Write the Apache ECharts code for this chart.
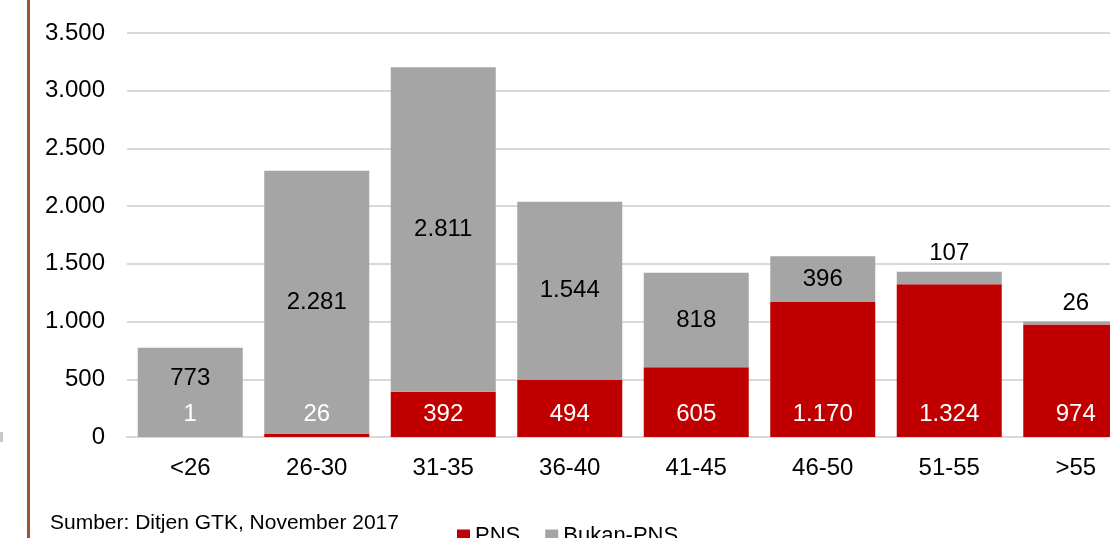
<!DOCTYPE html>
<html>
<head>
<meta charset="utf-8">
<script src="https://cdn.jsdelivr.net/npm/echarts@6/dist/echarts.min.js"></script>
<style>
  html, body { margin: 0; padding: 0; background: #fff; overflow: hidden; }
  /* kanvas lebih lebar dari jendela: kategori terakhir terpotong seperti aslinya */
  #chart { width: 1139px; height: 538px; }
</style>
</head>
<body>
<div id="chart"></div>
<script>
// kelompok usia
var categories = ['<26', '26-30', '31-35', '36-40', '41-45', '46-50', '51-55', '>55'];
var pns = [1, 26, 392, 494, 605, 1170, 1324, 974];
var bukanPns = [773, 2281, 2811, 1544, 818, 396, 107, 26];
var yTicks = [0, 500, 1000, 1500, 2000, 2500, 3000, 3500];

var FONT = '"Liberation Sans", Arial, sans-serif';

function fmt(v) { // titik sebagai pemisah ribuan
    return String(v).replace(/\B(?=(\d{3})+(?!\d))/g, '.');
}

// label abu-abu: tengah, kecuali yang kecil di atas batang
var bukanData = bukanPns.map(function (v, i) {
    if (v < 200) {
        return { value: v, label: { position: 'top', distance: 6 } };
    }
    if (i === 0) {
        return { value: v, label: { offset: [0, -14] } };
    }
    return v;
});

var chart = echarts.init(document.getElementById('chart'));
chart.setOption({
    animation: false,
    textStyle: { fontFamily: FONT },
    grid: { left: 127, right: 0, top: 33, bottom: 101 },
    legend: {
        data: ['PNS', 'Bukan-PNS'],
        left: 452,
        top: 520,
        icon: 'rect',
        itemWidth: 13,
        itemHeight: 13,
        itemGap: 25,
        textStyle: { fontSize: 22, color: '#000', fontFamily: FONT }
    },
    xAxis: {
        type: 'category',
        data: categories,
        axisLine: { lineStyle: { color: '#d9d9d9', width: 2 } },
        axisTick: { show: false },
        axisLabel: { fontSize: 24, color: '#000', margin: 19 }
    },
    yAxis: {
        type: 'value',
        min: 0,
        max: 3500,
        interval: 500,
        axisLine: { show: false },
        axisTick: { show: false },
        splitLine: { lineStyle: { color: '#d9d9d9', width: 2 } },
        axisLabel: {
            fontSize: 24, color: '#000', margin: 22,
            formatter: function (v) { return yTicks.indexOf(v) > -1 ? fmt(v) : ''; }
        }
    },
    series: [
        {
            name: 'PNS',
            type: 'bar',
            stack: 'total',
            barWidth: 105,
            data: pns,
            itemStyle: { color: '#c00000' },
            label: {
                show: true,
                position: 'insideBottom',
                distance: 11,
                color: '#fff',
                fontSize: 24,
                formatter: function (p) { return fmt(p.value); }
            }
        },
        {
            name: 'Bukan-PNS',
            type: 'bar',
            stack: 'total',
            barWidth: 105,
            data: bukanData,
            itemStyle: { color: '#a5a5a5' },
            label: {
                show: true,
                position: 'inside',
                color: '#000',
                fontSize: 24,
                formatter: function (p) { return fmt(p.value); }
            }
        }
    ],
    graphic: [
        { type: 'rect', shape: { x: 27, y: 0, width: 3, height: 538 }, style: { fill: '#a0522d' } },
        { type: 'rect', shape: { x: 0, y: 432, width: 3, height: 10 }, style: { fill: '#c8c8c8' } },
        {
            type: 'text', left: 50, top: 513,
            style: { text: 'Sumber: Ditjen GTK, November 2017', fill: '#000', font: '21px ' + FONT }
        }
    ]
});
</script>
</body>
</html>
